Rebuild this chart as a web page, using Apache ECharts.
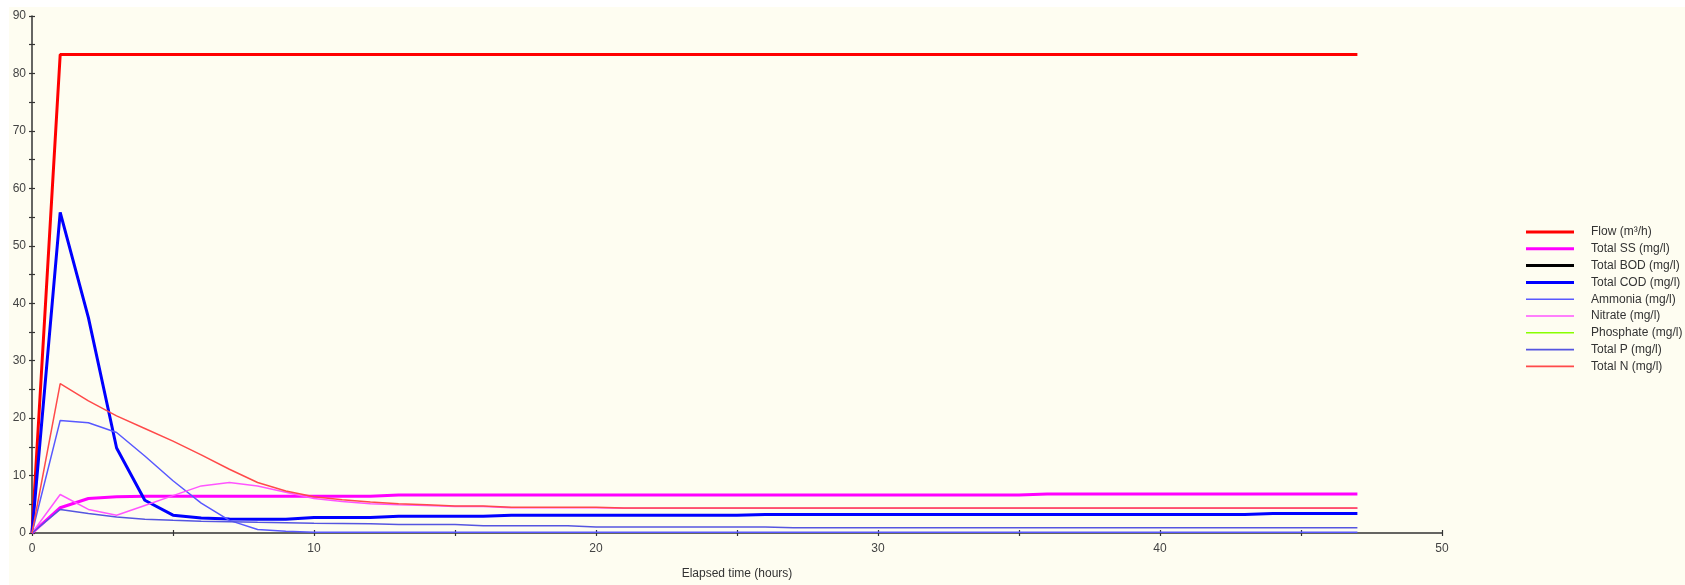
<!DOCTYPE html>
<html>
<head>
<meta charset="utf-8">
<script src="https://cdn.jsdelivr.net/npm/echarts@6/dist/echarts.min.js"></script>
<style>
  html, body { margin: 0; padding: 0; background: #ffffff; width: 1685px; height: 585px; overflow: hidden; }
  #bg { position: absolute; left: 9px; top: 7px; width: 1676px; height: 578px; background: #FEFDF1; }
  #c { position: absolute; left: 0; top: 0; width: 1685px; height: 585px; }
</style>
</head>
<body>
<div id="bg"></div>
<div id="c"></div>
<script>
// Elapsed time (hours)
const hours = [0,1,2,3,4,5,6,7,8,9,10,11,12,13,14,15,16,17,18,19,20,21,22,23,24,25,26,27,28,29,30,31,32,33,34,35,36,37,38,39,40,41,42,43,44,45,46,47];

const flow = [0,83.3,83.3,83.3,83.3,83.3,83.3,83.3,83.3,83.3,83.3,83.3,83.3,83.3,83.3,83.3,83.3,83.3,83.3,83.3,83.3,83.3,83.3,83.3,83.3,83.3,83.3,83.3,83.3,83.3,83.3,83.3,83.3,83.3,83.3,83.3,83.3,83.3,83.3,83.3,83.3,83.3,83.3,83.3,83.3,83.3,83.3,83.3];
const totalSS = [0,4.4,6.0,6.3,6.4,6.4,6.4,6.4,6.4,6.4,6.4,6.4,6.4,6.6,6.6,6.6,6.6,6.6,6.6,6.6,6.6,6.6,6.6,6.6,6.6,6.6,6.6,6.6,6.6,6.6,6.6,6.6,6.6,6.6,6.6,6.6,6.8,6.8,6.8,6.8,6.8,6.8,6.8,6.8,6.8,6.8,6.8,6.8];
const totalBOD = [];
const totalCOD = [0,55.8,37.5,14.8,5.7,3.1,2.6,2.45,2.4,2.4,2.7,2.7,2.7,2.9,2.9,2.9,2.9,3.1,3.1,3.1,3.1,3.1,3.1,3.1,3.1,3.1,3.2,3.2,3.2,3.2,3.2,3.2,3.2,3.2,3.2,3.2,3.2,3.2,3.2,3.2,3.2,3.2,3.2,3.2,3.4,3.4,3.4,3.4];
const ammonia = [0,19.6,19.2,17.5,13.4,9.1,5.2,2.2,0.6,0.3,0.15,0.15,0.15,0.15,0.15,0.15,0.15,0.15,0.15,0.15,0.15,0.15,0.15,0.15,0.15,0.15,0.15,0.15,0.15,0.15,0.15,0.15,0.15,0.15,0.15,0.15,0.15,0.15,0.15,0.15,0.15,0.15,0.15,0.15,0.15,0.15,0.15,0.15];
const nitrate = [0,6.7,4.1,3.1,4.8,6.5,8.2,8.8,8.2,7.1,6.0,5.5,5.1,4.9,4.8,4.6,4.6,4.4,4.4,4.4,4.4,4.3,4.3,4.3,4.3,4.3,4.3,4.3,4.3,4.3,4.3,4.3,4.3,4.3,4.3,4.3,4.3,4.3,4.3,4.3,4.3,4.3,4.3,4.3,4.3,4.3,4.3,4.3];
const phosphate = [];
const totalP = [0,4.1,3.4,2.8,2.4,2.2,2.05,1.95,1.85,1.8,1.7,1.65,1.6,1.5,1.5,1.5,1.25,1.25,1.25,1.25,1.05,1.05,1.05,1.05,1.05,1.05,1.05,0.9,0.9,0.9,0.9,0.9,0.9,0.9,0.9,0.9,0.9,0.9,0.9,0.9,0.9,0.9,0.9,0.9,0.9,0.9,0.9,0.9];
const totalN = [0,26.0,23.0,20.4,18.2,16.0,13.6,11.1,8.8,7.3,6.3,5.8,5.4,5.1,4.9,4.7,4.7,4.5,4.5,4.5,4.5,4.35,4.35,4.35,4.35,4.35,4.35,4.35,4.35,4.35,4.35,4.35,4.35,4.35,4.35,4.35,4.35,4.35,4.35,4.35,4.35,4.35,4.35,4.35,4.35,4.35,4.35,4.35];

const seriesNames = ['Flow (m³/h)','Total SS (mg/l)','Total BOD (mg/l)','Total COD (mg/l)','Ammonia (mg/l)','Nitrate (mg/l)','Phosphate (mg/l)','Total P (mg/l)','Total N (mg/l)'];
const seriesValues = [flow, totalSS, totalBOD, totalCOD, ammonia, nitrate, phosphate, totalP, totalN];
const seriesColors = ['#FF0000','#FF00FF','#000000','#0000FF','#5858FF','#FF55FF','#88FF00','#5555E0','#FF4A4A'];
const seriesWidths = [3,3,3,3,1.5,1.5,1.5,1.5,1.5];

const chart = echarts.init(document.getElementById('c'), null, {renderer: 'canvas', width: 1685, height: 585});
const font = 'Liberation Sans, Arial, sans-serif';

function pairs(vals) {
  const out = [];
  for (let i = 0; i < vals.length; i++) out.push([hours[i], vals[i]]);
  return out;
}

const axisLine = {show: true, lineStyle: {color: '#333333', width: 1.5}};
const tickStyle = {color: '#333333', width: 1.2};

const option = {
  backgroundColor: 'transparent',
  animation: false,
  grid: {left: 32, top: 16, width: 1410, height: 520, containLabel: false},
  legend: {
    orient: 'vertical',
    left: 1521,
    top: 220,
    padding: 5,
    itemWidth: 48,
    itemHeight: 14,
    itemGap: 2.8,
    selectedMode: false,
    symbolKeepAspect: true,
    textStyle: {fontFamily: font, fontSize: 12, color: '#333333', lineHeight: 14, padding: [0, 0, 0, 12]},
    data: seriesNames.map((n, i) => ({
      name: n,
      icon: seriesWidths[i] > 2 ? 'path://M0,0h48v3h-48z' : 'path://M0,0h48v1.6h-48z',
      itemStyle: {color: seriesColors[i], borderWidth: 0}
    }))
  },
  xAxis: [{
    type: 'value', min: 0, max: 50, interval: 10,
    name: 'Elapsed time (hours)', nameLocation: 'middle', nameGap: 35,
    nameTextStyle: {fontFamily: font, fontSize: 12, color: '#333333'},
    axisLine: axisLine,
    axisTick: {show: true, inside: false, length: 3, lineStyle: tickStyle},
    minorTick: {show: true, splitNumber: 2, length: 3, lineStyle: tickStyle},
    axisLabel: {fontFamily: font, fontSize: 12, color: '#444444', margin: 10},
    splitLine: {show: false}
  }, {
    type: 'value', min: 0, max: 50, interval: 10, position: 'bottom', offset: 0,
    axisLine: {show: false},
    axisTick: {show: true, inside: true, length: 3, lineStyle: tickStyle},
    minorTick: {show: true, splitNumber: 2, length: 3, lineStyle: tickStyle},
    axisLabel: {show: false},
    splitLine: {show: false}
  }],
  yAxis: [{
    type: 'value', min: 0, max: 90, interval: 10,
    axisLine: axisLine,
    axisTick: {show: true, inside: false, length: 3, lineStyle: tickStyle},
    minorTick: {show: true, splitNumber: 2, length: 3, lineStyle: tickStyle},
    axisLabel: {fontFamily: font, fontSize: 12, color: '#444444', margin: 6},
    splitLine: {show: false}
  }, {
    type: 'value', min: 0, max: 90, interval: 10, position: 'left', offset: 0,
    axisLine: {show: false},
    axisTick: {show: true, inside: true, length: 3, lineStyle: tickStyle},
    minorTick: {show: true, splitNumber: 2, length: 3, lineStyle: tickStyle},
    axisLabel: {show: false},
    splitLine: {show: false}
  }],
  series: seriesNames.map((name, i) => ({
    name: name,
    type: 'line',
    xAxisIndex: 0,
    yAxisIndex: 0,
    symbol: 'none',
    showSymbol: false,
    color: seriesColors[i],
    lineStyle: {color: seriesColors[i], width: seriesWidths[i]},
    data: pairs(seriesValues[i])
  }))
};
chart.setOption(option);
</script>
</body>
</html>
